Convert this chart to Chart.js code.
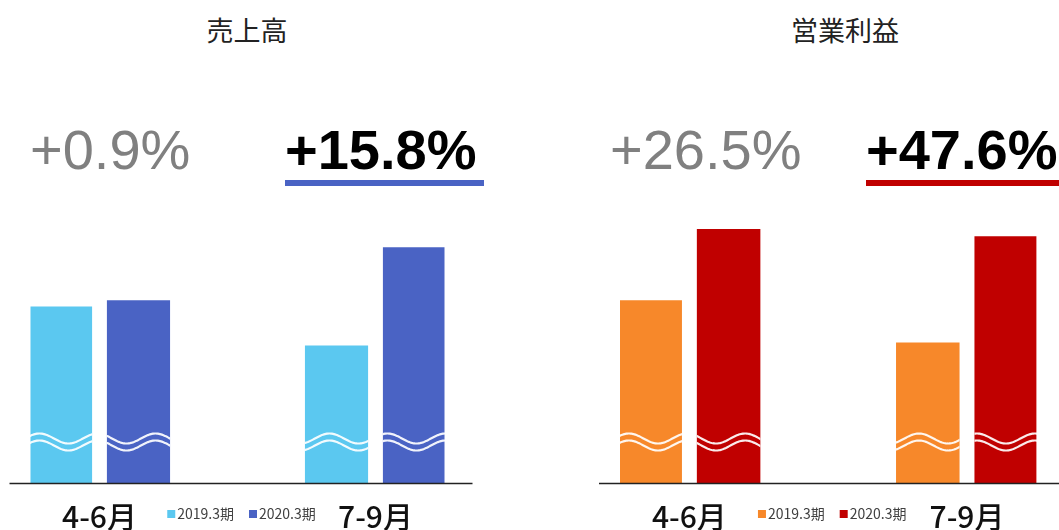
<!DOCTYPE html>
<html lang="ja">
<head>
<meta charset="UTF-8" />
<title>売上高・営業利益</title>
<script src="https://cdn.jsdelivr.net/npm/chart.js"></script>
<style>
  html, body { margin: 0; padding: 0; background: #fff; }
  #wrap { position: relative; width: 1059px; height: 530px; overflow: hidden; font-family: "Noto Sans CJK JP", sans-serif; }
  .title { position: absolute; top: 16px; font-size: 27px; line-height: 27px; color: #222; transform: translateX(-50%); white-space: nowrap; }
  .pct { position: absolute; top: 122px; font-family: "Liberation Sans", Arial, sans-serif; font-size: 56px; line-height: 56px; white-space: nowrap; }
  .pct.old { color: #808080; }
  .pct.new { color: #000; font-weight: bold; }
  .uline { position: absolute; top: 180px; height: 6px; }
  .box { position: absolute; top: 200px; height: 343px; }
</style>
</head>
<body>
<div id="wrap">
  <div class="title" style="left:247px">売上高</div>
  <div class="title" style="left:845px">営業利益</div>

  <div class="pct old" id="s0" style="left:30px"></div>
  <div class="pct new" id="s1" style="left:285px"></div>
  <div class="uline" style="left:285px;width:199px;background:#4a63c4"></div>

  <div class="pct old" id="p0" style="left:610px"></div>
  <div class="pct new" id="p1" style="left:866px"></div>
  <div class="uline" style="left:866px;width:200px;background:#c00000"></div>

  <div class="box" style="left:0;width:530px"><canvas id="salesChart"></canvas></div>
  <div class="box" style="left:530px;width:529px"><canvas id="profitChart"></canvas></div>
</div>

<script>
  // data (bar heights are relative: the axis is broken by the wavy lines)
  const periods = ['4-6月', '7-9月'];
  const seriesNames = ['2019.3期', '2020.3期'];
  const sales2019 = [176, 137];
  const sales2020 = [182, 235];
  const profit2019 = [182, 140];
  const profit2020 = [253, 246];
  const salesGrowth = ['+0.9%', '+15.8%'];
  const profitGrowth = ['+26.5%', '+47.6%'];

  document.getElementById('s0').textContent = salesGrowth[0];
  document.getElementById('s1').textContent = salesGrowth[1];
  document.getElementById('p0').textContent = profitGrowth[0];
  document.getElementById('p1').textContent = profitGrowth[1];

  // empty middle slot keeps the two groups far apart
  const spaced = arr => [arr[0], null, arr[1]];

  // baseline + white wavy "break" marks
  const breakPlugin = {
    id: 'breaks',
    afterDatasetsDraw(chart) {
      const { ctx, chartArea } = chart;
      const base = chart.scales.y.getPixelForValue(0);
      chart.data.datasets.forEach((ds, i) => {
        chart.getDatasetMeta(i).data.forEach((bar, j) => {
          if (ds.data[j] == null) return;
          const p = bar.getProps(['x', 'y', 'width', 'base'], true);
          const left = p.x - p.width / 2;
          ctx.save();
          ctx.beginPath();
          ctx.rect(left, p.y, p.width, p.base - p.y);
          ctx.clip();
          ctx.strokeStyle = 'rgba(255,255,255,0.92)';
          ctx.lineWidth = 2.2;
          [44.5, 37.5].forEach(off => {
            ctx.beginPath();
            for (let x = left - 2; x <= left + p.width + 2; x++) {
              const y = base - off - 5 * Math.cos(2 * Math.PI * (x - chartArea.left - 9) / 58);
              if (x === left - 2) ctx.moveTo(x, y); else ctx.lineTo(x, y);
            }
            ctx.stroke();
          });
          ctx.restore();
        });
      });
      ctx.save();
      ctx.strokeStyle = '#222';
      ctx.lineWidth = 1.6;
      ctx.beginPath();
      ctx.moveTo(chartArea.left - 21, base + 0.5);
      ctx.lineTo(chartArea.right + 28, base + 0.5);
      ctx.stroke();
      ctx.restore();
    },
    afterDraw(chart) {
      // legend sits on the tick-label line, between the two groups
      const { ctx } = chart;
      const xs = chart.scales.x;
      const cx = (xs.getPixelForValue(0) + xs.getPixelForValue(2)) / 2 + 4;
      const cy = (xs.top + xs.bottom) / 2 + 1;
      ctx.save();
      ctx.font = '14px "Noto Sans CJK JP", sans-serif';
      ctx.textBaseline = 'middle';
      const items = chart.data.datasets.map(d => ({ label: d.label, color: d.backgroundColor, w: 10 + ctx.measureText(d.label).width }));
      const gap = 15;
      let x = cx - (items.reduce((s, it) => s + it.w, 0) + gap) / 2;
      items.forEach(it => {
        ctx.fillStyle = it.color;
        ctx.fillRect(x, cy - 4, 8, 8);
        ctx.fillStyle = '#404040';
        ctx.fillText(it.label, x + 10, cy);
        x += it.w + gap;
      });
      ctx.restore();
    }
  };

  function makeChart(id, v2019, v2020, colors, padL, padR) {
    return new Chart(document.getElementById(id), {
      type: 'bar',
      data: {
        labels: [periods[0], '', periods[1]],
        datasets: [
          { label: seriesNames[0], data: spaced(v2019), backgroundColor: colors[0] },
          { label: seriesNames[1], data: spaced(v2020), backgroundColor: colors[1] }
        ]
      },
      options: {
        responsive: true,
        maintainAspectRatio: false,
        animation: false,
        layout: { padding: { left: padL, right: padR, top: 0, bottom: 0 } },
        datasets: { bar: { categoryPercentage: 1.13, barPercentage: 0.81, borderWidth: 0 } },
        plugins: { legend: { display: false }, tooltip: { enabled: false } },
        scales: {
          x: {
            grid: { display: false },
            border: { display: false },
            ticks: {
              padding: 8,
              color: '#111',
              font: { family: '"Noto Sans CJK JP", sans-serif', size: 30, weight: 500 }
            }
          },
          y: { display: false, min: 0, max: 282 }
        }
      },
      plugins: [breakPlugin]
    });
  }

  makeChart('salesChart', sales2019, sales2020, ['#5bc8f0', '#4a63c4'], 30.5, 85.5);
  makeChart('profitChart', profit2019, profit2020, ['#f7882a', '#c00000'], 90, 22.6);
</script>
</body>
</html>
